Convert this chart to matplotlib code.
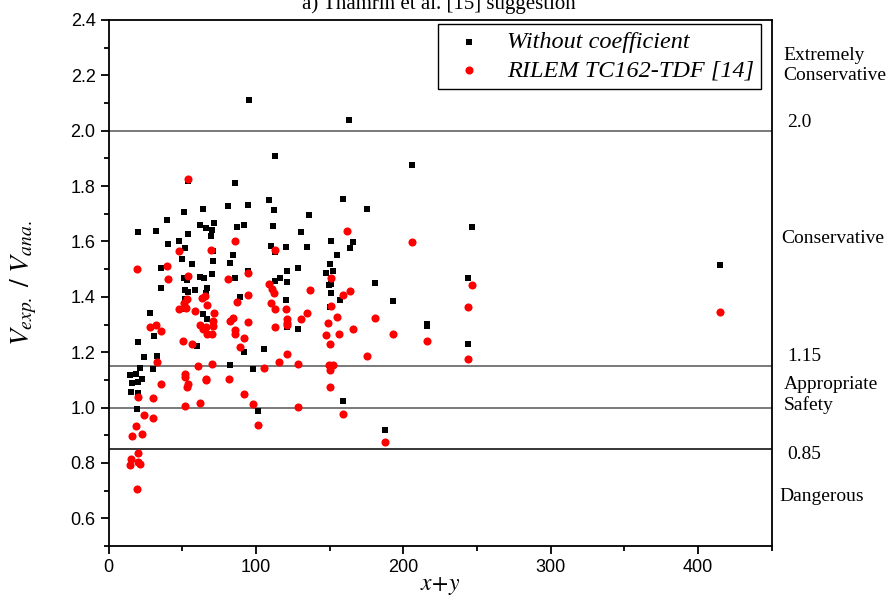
import matplotlib
matplotlib.use("Agg")
import matplotlib.pyplot as plt
from matplotlib.ticker import MultipleLocator

plt.rcParams['mathtext.fontset'] = 'stix'

# Without coefficient (black squares)
bx = [95, 163, 113, 206,
      53.5, 85.5, 109, 159, 175, 64, 81, 94.5, 112, 39.5, 51, 136, 19.5, 32, 54, 61.8,
      66, 71.6, 70.3, 69.4, 87.3, 92, 111.6, 130.8, 40, 47.6, 51.7, 70.5, 84.3, 110, 112.8,
      120, 134.4, 150.7, 165.9, 163.7, 155, 49.9, 56.2, 70.5, 82.3, 150.5, 35.2, 94.2, 121.1,
      128.4, 147.4, 152.1, 50.8, 53.1, 61.9, 64.8, 70.3, 85.4, 112.5, 116, 121.1, 149.4,
      150.7, 150.7, 180.7, 35.4, 52, 53.5, 58.5, 66.8, 65.9, 89.3, 120, 156.7, 193.1, 52, 52,
      150.5, 28.2, 63.9, 66.4, 120.9, 128.4, 30.6, 60.2, 19.6, 91.7, 105.1, 24.1, 33, 21.1,
      30.2, 82, 97.6, 14.4, 18.5, 22.3,
      15.8, 19.6, 14.9, 19.6, 18.9, 101.2, 158.7, 187.4,
      246.5, 244, 215.7, 215.7, 244, 415]
by = [2.11, 2.04, 1.91, 1.875,
      1.817, 1.811, 1.751, 1.753, 1.717, 1.719, 1.729, 1.730, 1.712, 1.679, 1.706, 1.695,
      1.633, 1.637, 1.627, 1.660, 1.647, 1.665, 1.640, 1.619, 1.651, 1.661, 1.655, 1.634,
      1.590, 1.603, 1.575, 1.565, 1.550, 1.583, 1.562, 1.580, 1.579, 1.600, 1.598, 1.577,
      1.552, 1.535, 1.519, 1.531, 1.521, 1.518, 1.503, 1.493, 1.492, 1.504, 1.487, 1.493,
      1.469, 1.462, 1.471, 1.469, 1.483, 1.468, 1.458, 1.469, 1.454, 1.442, 1.447, 1.414,
      1.450, 1.431, 1.426, 1.418, 1.424, 1.431, 1.413, 1.399, 1.389, 1.390, 1.384, 1.393,
      1.355, 1.364, 1.342, 1.337, 1.319, 1.292, 1.283, 1.260, 1.222, 1.237, 1.201, 1.210,
      1.181, 1.188, 1.144, 1.138, 1.153, 1.141, 1.118, 1.121, 1.103,
      1.090, 1.093, 1.055, 1.054, 0.996, 0.989, 1.024, 0.918,
      1.654, 1.467, 1.303, 1.295, 1.229, 1.514]

# RILEM TC162-TDF [14] (red circles)
rx = [54, 161.8, 85.6, 47.6, 69.5, 112.8, 19.4, 39.2, 40.1, 53.5, 80.9, 94.2, 108.9, 110.9,
      112.3, 136.3, 150.7, 163.7, 159.1, 50.8, 53.3, 47.4, 52.2, 63.5, 65.3, 66.8, 58.7,
      71.6, 87.2, 94.2, 110, 113, 120.2, 134.4, 150.7, 28.2, 32, 35.4, 61.7, 63.7, 65.9,
      66.8, 70.5, 70.5, 70.3, 82.5, 84.5, 85.4, 85.4, 94.2, 91.9, 89.3, 113, 121.1, 121.1,
      121.1, 130.8, 148.9, 155, 147.6, 156.4, 150.5, 165.9, 180.7, 193.1, 175, 50.1, 56.4,
      33, 60.5, 70.3, 105.1, 115.6, 120.9, 128.6, 149.6, 152.3, 150.1, 52, 52, 65.9, 81.6,
      54, 53.3, 65.9, 35.4, 19.6, 30.2, 52, 61.9, 92, 97.6, 101, 128.6, 150.1, 158.7, 187.4,
      24.1, 30.2, 18.5, 15.8, 22.7, 19.6, 15.1, 14.4, 19.6, 21.3, 19.1,
      206, 246.5, 244, 215.7, 244, 415]
ry = [1.824, 1.637, 1.601, 1.564, 1.571, 1.571, 1.499, 1.511, 1.465, 1.477, 1.465, 1.486,
      1.445, 1.427, 1.415, 1.424, 1.469, 1.422, 1.405, 1.379, 1.391, 1.357, 1.360, 1.397,
      1.403, 1.370, 1.350, 1.343, 1.380, 1.405, 1.379, 1.357, 1.357, 1.342, 1.367, 1.290,
      1.297, 1.276, 1.298, 1.283, 1.291, 1.266, 1.312, 1.295, 1.266, 1.313, 1.325, 1.280,
      1.267, 1.308, 1.251, 1.220, 1.292, 1.321, 1.307, 1.298, 1.321, 1.307, 1.327, 1.263,
      1.264, 1.231, 1.284, 1.323, 1.266, 1.187, 1.242, 1.231, 1.163, 1.151, 1.159, 1.144,
      1.163, 1.195, 1.158, 1.155, 1.155, 1.135, 1.121, 1.111, 1.105, 1.103,
      1.085, 1.075, 1.098, 1.085, 1.037, 1.033, 1.006, 1.017, 1.048, 1.012, 0.936, 1.003,
      1.073, 0.976, 0.877, 0.972, 0.961, 0.934, 0.898, 0.906, 0.835, 0.813, 0.793, 0.803,
      0.796, 0.705,
      1.597, 1.441, 1.364, 1.241, 1.175, 1.346]

limits = [2.0, 1.15, 1.0, 0.85]
limit_colors = ['#555555', '#555555', '#555555', 'black']

serif = 'Liberation Serif'
sans = 'Liberation Sans'

fig = plt.figure(figsize=(8.96, 6.06), dpi=100)
ax = fig.add_axes([0.1214, 0.099, 0.7399, 0.868])

for v, c in zip(limits, limit_colors):
    ax.axhline(v, color=c, lw=1.1, zorder=1)

ax.scatter(bx, by, marker='s', s=24, color='black', lw=0, zorder=3, label='Without coefficient')
ax.scatter(rx, ry, marker='o', s=34, color='red', lw=0, zorder=4, label='RILEM TC162-TDF [14]')

ax.set_xlim(0, 450)
ax.set_ylim(0.5, 2.4)
ax.xaxis.set_major_locator(MultipleLocator(100))
ax.xaxis.set_minor_locator(MultipleLocator(50))
ax.yaxis.set_major_locator(MultipleLocator(0.2))
ax.yaxis.set_minor_locator(MultipleLocator(0.1))
ax.yaxis.set_major_formatter(plt.FormatStrFormatter('%.1f'))
ax.tick_params(which='major', direction='out', length=6, width=1.3, labelsize=13)
ax.tick_params(which='minor', direction='out', length=3.5, width=1.3)
ax.tick_params(top=False, right=False, which='both')
for lab in ax.get_xticklabels() + ax.get_yticklabels():
    lab.set_fontfamily(sans)
for sp in ax.spines.values():
    sp.set_linewidth(1.3)

ax.set_xlabel(r'$x\!+\!y$', fontsize=17, labelpad=-2)
ax.yaxis.set_label_coords(-0.105, 0.54)
ax.set_ylabel(r'$V_{exp.}\ /\ V_{ana.}$', fontsize=20)

leg = ax.legend(loc='upper right', bbox_to_anchor=(0.988, 0.997), fancybox=False,
                edgecolor='black', framealpha=1, handletextpad=0.55, borderpad=0.3,
                labelspacing=0.25, borderaxespad=0.1,
                prop={'family': serif, 'style': 'italic', 'size': 17.5})
leg.get_frame().set_linewidth(1.0)

fig.text(0.49, 0.994, 'a) Thamrin et al. [15] suggestion', ha='center', va='center',
         fontsize=15, family=serif)

tx = dict(transform=ax.get_yaxis_transform(), fontsize=14, family=serif, va='center')
ax.text(1.018, 2.235, 'Extremely\nConservative', linespacing=1.2, **tx)
ax.text(1.023, 2.03, '2.0', **tx)
ax.text(1.015, 1.61, 'Conservative', **tx)
ax.text(1.023, 1.185, '1.15', **tx)
ax.text(1.018, 1.045, 'Appropriate\nSafety', linespacing=1.2, **tx)
ax.text(1.023, 0.832, '0.85', **tx)
ax.text(1.012, 0.68, 'Dangerous', **tx)

fig.savefig('out.png', dpi=100)
